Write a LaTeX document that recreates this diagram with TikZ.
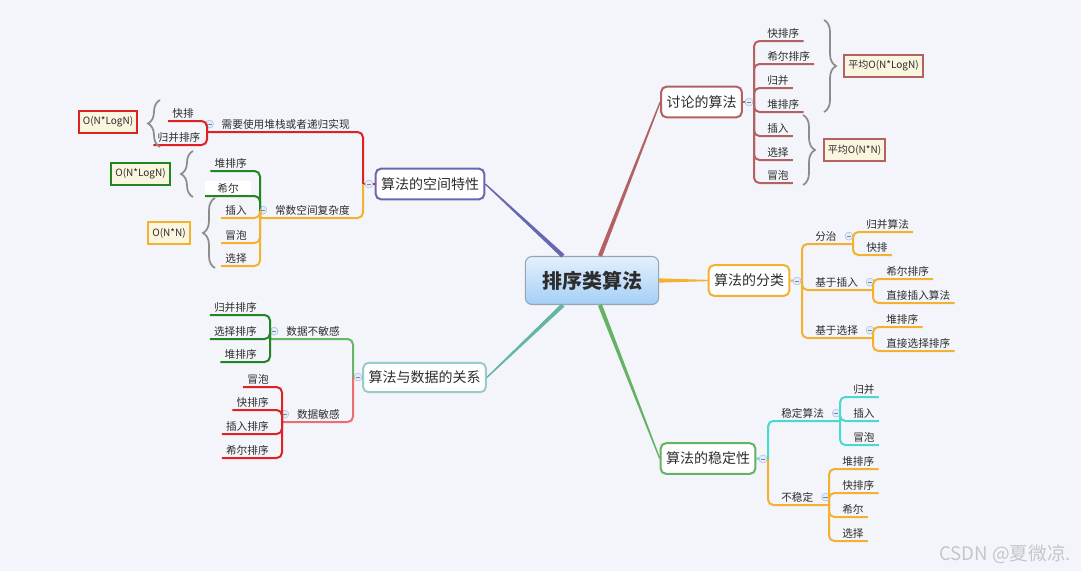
\documentclass[tikz,border=0pt]{standalone}
\usepackage{fontspec}
\setmainfont{Noto Sans CJK SC}
\usetikzlibrary{calc,decorations.pathreplacing}
\definecolor{bgc}{RGB}{244,245,250}
\definecolor{txtc}{RGB}{45,45,45}
\definecolor{rootc}{RGB}{150,165,180}
\definecolor{rootT}{RGB}{228,240,253}
\definecolor{rootB}{RGB}{164,207,246}
\definecolor{discc}{RGB}{178,98,98}
\definecolor{clsc}{RGB}{242,178,48}
\definecolor{stabc}{RGB}{100,178,100}
\definecolor{spacec}{RGB}{104,104,176}
\definecolor{datac}{RGB}{150,205,200}
\definecolor{datal}{RGB}{100,180,168}
\definecolor{cyanc}{RGB}{72,218,204}
\definecolor{orgc}{RGB}{242,178,48}
\definecolor{redc}{RGB}{222,34,34}
\definecolor{redlc}{RGB}{236,110,110}
\definecolor{grnc}{RGB}{34,132,34}
\definecolor{grnlc}{RGB}{104,180,104}
\definecolor{resc}{RGB}{250,245,222}
\definecolor{brcc}{RGB}{140,140,140}
\definecolor{togc}{RGB}{170,190,225}
\definecolor{togf}{RGB}{228,236,250}
\definecolor{wmc}{RGB}{196,198,204}
\tikzset{
  kid/.style={font=\fontsize{8}{9.5}\selectfont, text=txtc, inner xsep=3pt, inner ysep=2pt},
  twig/.style={draw=#1, line width=1.5pt, rounded corners=4pt},
  mbox/.style={draw=#1, fill=white, line width=1.5pt, rounded corners=4pt, font=\fontsize{10.5}{12}\selectfont, text=txtc, minimum height=23pt, inner xsep=4pt},
  res/.style={draw=#1, fill=resc, line width=1.5pt, font=\fontsize{7.5}{9}\selectfont, text=txtc, minimum height=16.5pt, inner xsep=3pt},
  brc/.style={decorate, decoration={brace, amplitude=9pt}, draw=brcc, line width=1.3pt},
  tog/.style={circle, draw=togc, fill=togf, inner sep=0pt, minimum size=6pt,
    path picture={\draw[togc!70!black, line width=0.5pt] ([xshift=1.3pt]path picture bounding box.west) -- ([xshift=-1.3pt]path picture bounding box.east);}},
}
% tapered main branch: colour, from, to
\newcommand{\trunk}[3]{%
  \fill[#1] ($(#2)!1.6pt!90:(#3)$) -- ($(#3)!0.5pt!-90:(#2)$) -- ($(#3)!0.5pt!90:(#2)$)
    -- ($(#2)!1.6pt!-90:(#3)$) -- cycle;}
% leaf to the right / left of a spine: colour, name, spine x, junction y, line y, text
\newcommand{\rkid}[7][]{%
  \node[kid, anchor=south west, #1] (#3) at (#4+9,#6) {#7};
  \draw[twig=#2] (#4,#5) |- (#3.south east);}
\newcommand{\lkid}[7][]{%
  \node[kid, anchor=south east, #1] (#3) at (#4-9,#6) {#7};
  \draw[twig=#2] (#4,#5) |- (#3.south west);}
% branch with its own children: colour, name, spine x, junction y, line y, sub-spine x, text
\newcommand{\rmid}[7]{%
  \node[kid, anchor=south west] (#2) at (#3+9,#5) {#7};
  \draw[twig=#1] (#3,#4) |- (#6,#5);
  \node[tog] (#2-t) at ($(#2.east)+(8,0)$) {};}
\newcommand{\lmid}[7]{%
  \node[kid, anchor=south east] (#2) at (#3-9,#5) {#7};
  \draw[twig=#1] (#3,#4) |- (#6,#5);
  \node[tog] (#2-t) at ($(#2.west)+(-8,0)$) {};}

\begin{document}
\begin{tikzpicture}[x=0.75pt,y=-0.75pt]
\path[use as bounding box, fill=bgc] (0,0) rectangle (1081,571);

%% ---- centre and the five main topics
\node[draw=rootc, line width=0.8pt, rounded corners=5pt, top color=rootT, bottom color=rootB,
  minimum width=100pt, minimum height=36pt, font=\fontsize{15}{18}\selectfont\bfseries, text=txtc]
  (root) at (592,280.5) {排序类算法};
\node[mbox=discc] (disc) at (701.5,102) {讨论的算法};
\node[mbox=clsc] (cls) at (749,280.5) {算法的分类};
\node[mbox=stabc] (stab) at (708,458.5) {算法的稳定性};
\node[mbox=spacec] (space) at (430,184) {算法的空间特性};
\node[mbox=datac, minimum height=22pt] (data) at (424.5,377.5) {算法与数据的关系};

\coordinate (r-d) at ($(root.north)+(8,0)$);
\coordinate (r-s) at ($(root.south)+(8,0)$);
\coordinate (r-p) at ($(root.north)+(-29,0)$);
\coordinate (r-a) at ($(root.south)+(-29,0)$);
\trunk{discc}{r-d}{disc.west}
\trunk{clsc}{root.east}{cls.west}
\trunk{stabc}{r-s}{stab.west}
\trunk{spacec}{r-p}{space.east}
\trunk{datal}{r-a}{data.east}

%% ---- 讨论的算法
\draw[twig=discc] (disc.east) -- (754,102);
\node[tog] (disc-t) at (749,102) {};
\rkid{discc}{d-qs}{754}{102}{41}{快排序}
\rkid{discc}{d-shell}{754}{102}{64}{希尔排序}
\rkid{discc}{d-merge}{754}{102}{88}{归并}
\rkid{discc}{d-heap}{754}{102}{112}{堆排序}
\rkid{discc}{d-ins}{754}{102}{136}{插入}
\rkid{discc}{d-sel}{754}{102}{160}{选择}
\rkid{discc}{d-bub}{754}{102}{183}{冒泡}
\draw[brc] (824,20) -- (824,112);
\node[res=discc] (avg1) at (883.5,66) {平均O(N*LogN)};
\draw[brc] (803,115) -- (803,185);
\node[res=discc] (avg2) at (854.5,150) {平均O(N*N)};

%% ---- 算法的分类
\draw[twig=clsc] (cls.east) -- (802,281);
\node[tog] (cls-t) at (797,281) {};
\rmid{clsc}{c-dc}{802}{281}{244}{853}{分治}
\rkid{clsc}{c-merge}{853}{244}{232}{归并算法}
\rkid{clsc}{c-qs}{853}{244}{255}{快排}
\rmid{clsc}{c-ins}{802}{281}{290}{873}{基于插入}
\rkid{clsc}{c-shell}{873}{290}{279}{希尔排序}
\rkid{clsc}{c-dins}{873}{290}{303}{直接插入算法}
\rmid{clsc}{c-sel}{802}{281}{338}{873}{基于选择}
\rkid{clsc}{c-heap}{873}{338}{327}{堆排序}
\rkid{clsc}{c-dsel}{873}{338}{351}{直接选择排序}

%% ---- 算法的稳定性
\draw[twig=cyanc] (stab.east) -- (768,459);
\node[tog] (stab-t) at (763,459) {};
\rmid{cyanc}{s-st}{768}{459}{421}{840}{稳定算法}
\rkid{cyanc}{s-merge}{840}{421}{397}{归并}
\rkid{cyanc}{s-ins}{840}{421}{421}{插入}
\rkid{cyanc}{s-bub}{840}{421}{445}{冒泡}
\rmid{orgc}{s-un}{768}{459}{505}{829}{不稳定}
\rkid{orgc}{s-heap}{829}{505}{469}{堆排序}
\rkid{orgc}{s-qs}{829}{505}{493}{快排序}
\rkid{orgc}{s-shell}{829}{505}{517}{希尔}
\rkid{orgc}{s-sel}{829}{505}{541}{选择}

%% ---- 算法的空间特性
\draw[twig=redc] (space.west) -- (363,184);
\node[tog] (space-t) at (369,184) {};
\lmid{redc}{p-rec}{363}{184}{132}{207}{需要使用堆栈或者递归实现}
\lkid{redc}{p-qs}{207}{132}{121}{快排}
\lkid[xshift=5pt]{redc}{p-merge}{207}{132}{145}{归并排序}
\lmid{orgc}{p-const}{363}{184}{218}{260}{常数空间复杂度}
\lkid{grnc}{p-heap}{260}{218}{171}{堆排序}
\lkid[fill=white, inner xsep=9pt]{grnc}{p-shell}{260}{218}{196}{希尔}
\lkid{orgc}{p-ins}{260}{218}{218}{插入}
\lkid{orgc}{p-bub}{260}{218}{243}{冒泡}
\lkid{orgc}{p-sel}{260}{218}{266}{选择}
\draw[brc] (160,147) -- (160,100);
\node[res=redc] (p-nl1) at (108,122) {O(N*LogN)};
\draw[brc] (193,197) -- (193,151);
\node[res=grnc] (p-nl2) at (140.5,173.5) {O(N*LogN)};
\draw[brc] (215,268) -- (215,198);
\node[res=orgc] (p-nn) at (169,233) {O(N*N)};

%% ---- 算法与数据的关系
\draw[twig=grnlc] (data.west) -- (353,377);
\node[tog] (data-t) at (358,377) {};
\lmid{grnlc}{a-ins}{353}{377}{339}{270}{数据不敏感}
\lkid{grnc}{a-merge}{270}{339}{315}{归并排序}
\lkid{grnc}{a-sel}{270}{339}{339}{选择排序}
\lkid{grnc}{a-heap}{270}{339}{362}{堆排序}
\lmid{redlc}{a-sens}{353}{377}{422}{282}{数据敏感}
\lkid{redc}{a-bub}{282}{422}{387}{冒泡}
\lkid{redc}{a-qs}{282}{422}{410}{快排序}
\lkid{redc}{a-ins2}{282}{422}{434}{插入排序}
\lkid{redc}{a-shell}{282}{422}{458}{希尔排序}

\node[font=\fontsize{14}{16}\selectfont, text=wmc] (wm) at (1005,554) {CSDN @夏微凉.};
\end{tikzpicture}
\end{document}
